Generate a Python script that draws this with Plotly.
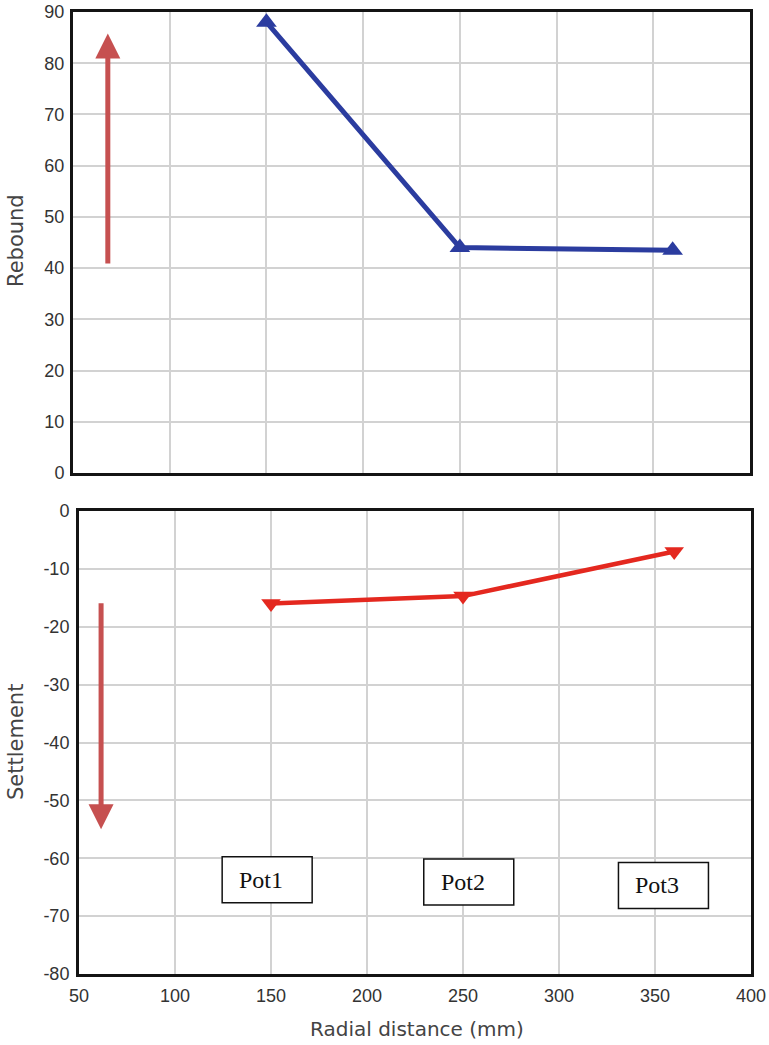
import plotly.graph_objects as go

# Measured values at the three potentiometers
radial_mm = [150, 250, 360]
rebound = [88, 44, 43.5]
settlement = [-16, -14.7, -7]
pot_labels = ["Pot1", "Pot2", "Pot3"]

# Axis ticks
x_ticks = [50, 100, 150, 200, 250, 300, 350, 400]
rebound_ticks = [0, 10, 20, 30, 40, 50, 60, 70, 80, 90]
settle_ticks = [-80, -70, -60, -50, -40, -30, -20, -10, 0]
settle_ticktext = ["-80", "-70", "-60", "-50", "-40", "-30", "-20", "-10", "0"]

W, H = 769, 1045
BLUE = "#2B3C9F"
RED = "#E4281F"
ARROW = "#C65050"
GRID = "#D2D2D2"
FRAME = "#141414"
TICK_FONT = dict(family="Liberation Sans, Arial, sans-serif", size=18, color="#333333")
TITLE_FONT = dict(family="DejaVu Sans, Verdana, sans-serif", size=21, color="#444444")


def px_x(p):
    return p / W


def px_y(p):
    return 1 - p / H


fig = go.Figure()

fig.add_trace(go.Scatter(
    x=radial_mm, y=rebound, xaxis="x", yaxis="y",
    mode="lines+markers",
    line=dict(color=BLUE, width=5),
    marker=dict(symbol="triangle-up", size=18, color=BLUE),
    showlegend=False,
))

fig.add_trace(go.Scatter(
    x=radial_mm, y=settlement, xaxis="x2", yaxis="y2",
    mode="lines+markers",
    line=dict(color=RED, width=4.5),
    marker=dict(symbol="triangle-down", size=17, color=RED),
    showlegend=False,
))

common_axis = dict(
    showgrid=True, gridcolor=GRID, gridwidth=1.5,
    showline=True, linecolor=FRAME, linewidth=3, mirror=True,
    zeroline=False, ticks="", tickfont=TICK_FONT, automargin=False,
)

fig.update_layout(
    width=W, height=H,
    margin=dict(l=0, r=0, t=0, b=0, autoexpand=False),
    paper_bgcolor="white", plot_bgcolor="white",
    xaxis=dict(common_axis, domain=[px_x(73), px_x(750)], anchor="y",
               range=[50, 400], tickvals=x_ticks, showticklabels=False),
    yaxis=dict(common_axis, domain=[px_y(473), px_y(12)], anchor="x",
               range=[0, 90], tickvals=rebound_ticks, ticklabelstandoff=2),
    xaxis2=dict(common_axis, domain=[px_x(79), px_x(751)], anchor="y2",
                range=[50, 400], tickvals=x_ticks, ticklabelstandoff=3),
    yaxis2=dict(common_axis, domain=[px_y(974), px_y(511)], anchor="x2",
                range=[-80, 0], tickvals=settle_ticks, ticktext=settle_ticktext,
                ticklabelstandoff=3),
)

annotations = []

# Direction arrows: rebound upward, settlement downward
annotations.append(dict(
    xref="x", yref="y", axref="x", ayref="y",
    x=68, y=85.8, ax=68, ay=40.6,
    showarrow=True, arrowhead=2, arrowsize=1.0, arrowwidth=5, arrowcolor=ARROW,
    text="",
))
annotations.append(dict(
    xref="x2", yref="y2", axref="x2", ayref="y2",
    x=61.5, y=-55.0, ax=61.5, ay=-15.7,
    showarrow=True, arrowhead=2, arrowsize=1.0, arrowwidth=5, arrowcolor=ARROW,
    text="",
))

# Axis titles
annotations.append(dict(
    xref="paper", yref="paper", x=px_x(16), y=px_y(241),
    text="Rebound", textangle=-90, showarrow=False, font=TITLE_FONT,
    xanchor="center", yanchor="middle",
))
annotations.append(dict(
    xref="paper", yref="paper", x=px_x(16), y=px_y(742),
    text="Settlement", textangle=-90, showarrow=False, font=TITLE_FONT,
    xanchor="center", yanchor="middle",
))
annotations.append(dict(
    xref="paper", yref="paper", x=px_x(417), y=px_y(1029),
    text="Radial distance (mm)", showarrow=False,
    font=dict(TITLE_FONT, size=20),
    xanchor="center", yanchor="middle",
))

# Potentiometer label boxes
label_x = [148, 253, 354.4]
label_y = [-63.7, -64.1, -64.7]
shapes = []
for lx, ly, name in zip(label_x, label_y, pot_labels):
    shapes.append(dict(
        type="rect", xref="x2", yref="y2",
        xsizemode="pixel", ysizemode="pixel",
        xanchor=lx, yanchor=ly, x0=-45, x1=45, y0=-23, y1=23,
        line=dict(color="#111111", width=1.5), fillcolor="white",
        layer="above",
    ))
    annotations.append(dict(
        xref="x2", yref="y2", x=lx, y=ly, xshift=-6, yshift=0,
        text=name, showarrow=False,
        font=dict(family="Liberation Serif, Times New Roman, serif", size=24, color="#111111"),
        xanchor="center", yanchor="middle",
    ))

fig.update_layout(annotations=annotations, shapes=shapes)

fig.write_html("out.html")
